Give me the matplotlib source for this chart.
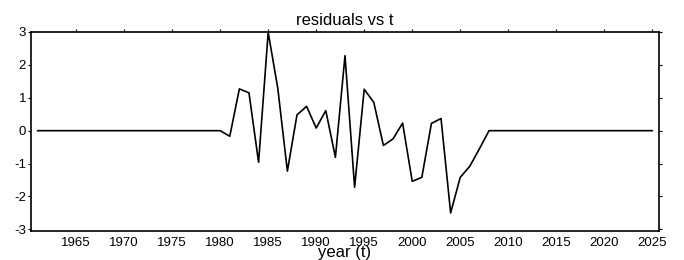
import matplotlib
matplotlib.use("Agg")
import matplotlib.pyplot as plt
import numpy as np

plt.rcParams['font.family'] = ['Liberation Sans', 'DejaVu Sans']

years = list(range(1961, 2026))
nonzero_years = list(range(1981, 2008))
nonzero_vals = [-0.17, 1.27, 1.15, -0.96, 2.99, 1.29, -1.23, 0.48, 0.74, 0.08,
                0.61, -0.81, 2.28, -1.72, 1.26, 0.86, -0.45, -0.25, 0.23, -1.54,
                -1.42, 0.22, 0.37, -2.50, -1.42, -1.08, -0.55]
residuals = [nonzero_vals[nonzero_years.index(y)] if y in nonzero_years else 0.0 for y in years]

xticks = [1965, 1970, 1975, 1980, 1985, 1990, 1995, 2000, 2005, 2010, 2015, 2020, 2025]
yticks = [-3, -2, -1, 0, 1, 2, 3]

fig = plt.figure(figsize=(6.84, 2.60), dpi=100)
ax = fig.add_axes([31/684, 1 - 231/260, (659 - 31)/684, (231 - 32)/260])
ax.plot(years, residuals, color='black', linewidth=1.2)
ax.set_xlim(1960.3, 2025.7)
ax.set_ylim(-3.05, 3.0)
ax.set_xticks(xticks)
ax.set_yticks(yticks)
ax.set_yticklabels([str(v) for v in yticks])
ax.tick_params(axis='x', which='both', bottom=False, top=True, labelbottom=True,
               labeltop=False, direction='out', length=2.5, width=0.8,
               labelsize=9.5, pad=1.5, colors='black')
ax.tick_params(axis='y', which='both', left=True, right=True, labelleft=True,
               labelright=False, direction='out', length=2.5, width=0.8,
               labelsize=9.5, pad=1)
for s in ax.spines.values():
    s.set_linewidth(1.2)
ax.set_title('residuals vs t', fontsize=12, pad=5)
ax.set_xlabel('year (t)', fontsize=12, labelpad=-2.5)
fig.savefig('out.png', dpi=100)
